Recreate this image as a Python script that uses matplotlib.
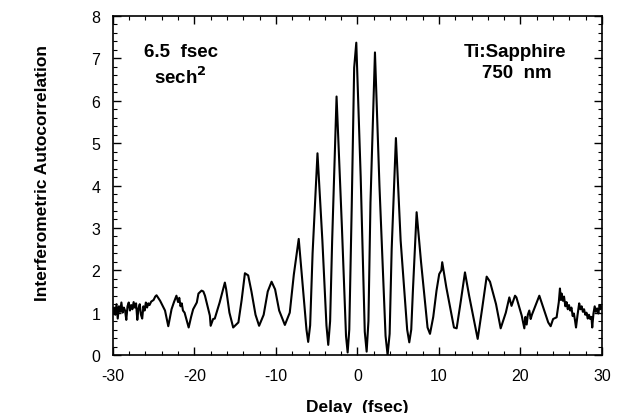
import matplotlib
matplotlib.use("Agg")
import matplotlib.pyplot as plt
from matplotlib.ticker import MultipleLocator

plt.rcParams['font.family'] = ['Liberation Sans', 'DejaVu Sans']
plt.rcParams['axes.unicode_minus'] = False

delay = [-30.0, -29.85, -29.7, -29.55, -29.4, -29.25, -29.1, -28.95, -28.8, -28.65,
         -28.5, -28.35, -28.2, -28.05, -27.9, -27.75, -27.6, -27.45, -27.3, -27.15,
         -27.0, -26.85, -26.7, -26.55, -26.4, -26.25, -26.1, -25.95, -25.8, -25.65,
         -25.5, -25.3, -25.0, -24.8, -24.64, -24.2, -23.6, -23.2, -22.8, -22.5,
         -22.2, -22.0, -21.85, -21.7, -21.55, -21.4, -21.2, -20.7, -20.4, -20.15,
         -19.7, -19.5, -19.12, -18.9, -18.7, -18.1, -18.0, -17.7, -17.5, -16.9,
         -16.47, -16.26, -16.1, -15.7, -15.24, -14.6, -14.2, -13.8, -13.4, -13.0,
         -12.5, -12.06, -11.5, -11.0, -10.53, -10.1, -9.6, -8.9, -8.3, -7.8,
         -7.2, -6.7, -6.25, -6.04, -5.8, -5.5, -4.9, -4.3, -3.8, -3.58,
         -3.35, -3.1, -2.56, -1.9, -1.4, -1.2, -1.0, -0.7, -0.4, -0.14,
         0.4, 0.9, 1.13, 1.35, 1.6, 2.15, 2.7, 3.45, 3.7, 3.95,
         4.2, 4.72, 5.3, 6.1, 6.36, 6.6, 6.8, 7.26, 7.8, 8.6,
         8.9, 9.3, 9.7, 10.03, 10.3, 10.4, 10.9, 11.84, 12.17, 12.7,
         13.19, 13.7, 14.75, 15.3, 15.85, 16.26, 17.0, 17.57, 18.2, 18.63,
         18.9, 19.33, 19.5, 20.15, 20.47, 20.6, 20.76, 20.9, 21.08, 21.25,
         21.4, 22.31, 23.4, 23.7, 24.0, 24.43, 24.7, 24.84, 24.95, 25.05,
         25.2, 25.34, 25.5, 25.65, 25.8, 25.95, 26.1, 26.25, 26.4, 26.55,
         26.7, 26.81, 27.0, 27.2, 27.35, 27.5, 27.65, 27.8, 27.95, 28.1,
         28.25, 28.4, 28.55, 28.7, 28.8, 28.95, 29.1, 29.25, 29.4, 29.55,
         29.7, 29.85, 30.0]

signal = [0.97, 1.12, 0.95, 1.20, 0.86, 1.15, 1.02, 1.24, 1.00, 1.12,
          1.05, 0.83, 1.15, 1.24, 1.05, 1.18, 1.08, 1.25, 1.12, 1.22,
          0.83, 1.10, 1.20, 0.95, 0.86, 1.15, 1.05, 1.24, 1.12, 1.22,
          1.18, 1.26, 1.30, 1.38, 1.41, 1.28, 1.05, 0.68, 1.08, 1.25,
          1.40, 1.25, 1.35, 1.15, 1.22, 1.05, 1.00, 0.65, 0.90, 1.08,
          1.24, 1.45, 1.52, 1.50, 1.40, 0.93, 0.69, 0.85, 0.86, 1.24,
          1.56, 1.71, 1.55, 1.00, 0.65, 0.77, 1.30, 1.93, 1.88, 1.50,
          0.95, 0.69, 0.95, 1.50, 1.73, 1.55, 1.05, 0.71, 1.00, 1.90,
          2.74, 1.60, 0.60, 0.31, 0.70, 2.40, 4.76, 2.70, 0.70, 0.24,
          0.80, 2.70, 6.10, 3.00, 0.45, 0.06, 0.60, 3.50, 6.78, 7.37,
          4.20, 0.55, 0.08, 0.80, 3.60, 7.14, 4.00, 0.45, 0.00, 0.50,
          2.50, 5.12, 2.70, 0.60, 0.30, 0.60, 1.50, 3.37, 2.20, 0.65,
          0.50, 0.90, 1.52, 1.91, 2.00, 2.19, 1.60, 0.65, 0.63, 1.30,
          1.95, 1.40, 0.38, 1.10, 1.85, 1.73, 1.20, 0.63, 1.00, 1.36,
          1.16, 1.40, 1.36, 0.93, 0.63, 0.90, 0.72, 0.95, 1.05, 0.85,
          0.95, 1.40, 0.77, 0.68, 0.85, 0.89, 1.25, 1.57, 1.30, 1.45,
          1.28, 1.38, 1.15, 1.25, 1.08, 1.18, 1.05, 1.12, 0.92, 0.98,
          0.80, 0.65, 0.95, 1.22, 1.08, 1.15, 1.02, 1.08, 0.95, 1.00,
          0.86, 0.95, 0.85, 0.90, 0.65, 0.98, 1.15, 1.02, 1.10, 0.98,
          1.18, 1.08, 1.15]

fig = plt.figure(figsize=(6.2, 4.14), dpi=100)
ax = fig.add_axes([0.182, 0.140, 0.789, 0.819])
ax.plot(delay, signal, color='black', lw=1.5)

ax.set_xlim(-30, 30)
ax.set_ylim(0, 8)
ax.xaxis.set_major_locator(MultipleLocator(10))
ax.xaxis.set_minor_locator(MultipleLocator(2))
ax.yaxis.set_major_locator(MultipleLocator(1))
ax.yaxis.set_minor_locator(MultipleLocator(0.2))
ax.tick_params(which='both', direction='in', top=True, right=True, labelsize=11.5)
ax.tick_params(which='major', length=6, width=1)
ax.tick_params(which='minor', length=3, width=0.8)
ax.tick_params(axis='x', pad=9)
ax.tick_params(axis='y', pad=9)
for s in ax.spines.values():
    s.set_linewidth(1.2)

ax.set_xlabel('Delay  (fsec)', fontsize=12.5, fontweight='bold')
ax.set_ylabel('Interferometric Autocorrelation', fontsize=12.5, fontweight='bold')
ax.xaxis.set_label_coords(0.499, -0.13)
ax.yaxis.set_label_coords(-0.129, 0.54)

ax.text(-21.7, 7.17, '6.5  fsec', fontsize=13.5, fontweight='bold', ha='center', va='center')
ax.text(-21.7, 6.58, 'sech$^\\mathbf{2}$', fontsize=13.5, fontweight='bold', ha='center', va='center')
ax.text(19.3, 7.17, 'Ti:Sapphire', fontsize=13.5, fontweight='bold', ha='center', va='center')
ax.text(19.6, 6.67, '750  nm', fontsize=13.5, fontweight='bold', ha='center', va='center')

fig.savefig('out.png', dpi=100)
